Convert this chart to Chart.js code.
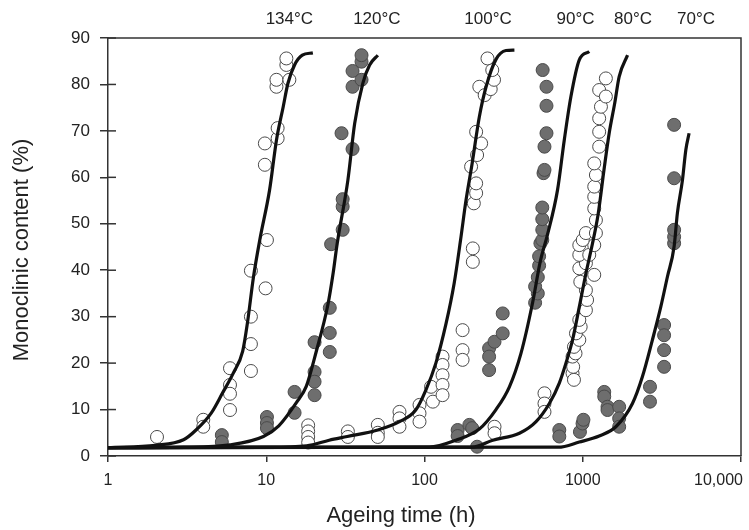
<!DOCTYPE html>
<html>
<head>
<meta charset="utf-8">
<script src="https://cdn.jsdelivr.net/npm/chart.js@4.4.1/dist/chart.umd.min.js"></script>
<style>
  html, body { margin: 0; padding: 0; background: #fff; }
  #wrap { width: 749px; height: 530px; }
</style>
</head>
<body>
<div id="wrap"><canvas id="agingChart" width="749" height="530"></canvas></div>
<script>
// temperature labels along the top, placed at an ageing time (h)
const temps = ['134°C', '120°C', '100°C', '90°C', '80°C', '70°C'];
const tempLabelX = [14, 50, 252, 900, 2080, 5200];

const xTicks = [1, 10, 100, 1000, 10000];
const xTickLabels = ['1', '10', '100', '1000', '10,000'];

// fitted curves [time h, monoclinic %]
const fit134 = [[1, 1.8], [2, 2.3], [3, 3.5], [3.6, 5.6], [4.5, 9.3], [5.3, 13.6], [6.2, 17.9], [7.1, 22.6],
  [7.6, 28.6], [8.3, 38.5], [9.1, 46.5], [10.5, 57.3], [11.6, 68], [12.8, 75.2], [13.7, 80.2], [15.1, 84.2],
  [16.9, 86.3], [19.7, 86.8]];
const fit120 = [[1, 1.8], [3, 1.9], [5.9, 2.4], [9.6, 4.2], [12, 6.5], [15.5, 11.5], [17.9, 15], [20.7, 22.5],
  [24.5, 32.5], [26.5, 39.5], [28, 45.5], [32.8, 59.4], [36.2, 71.6], [40.8, 80.3], [45, 84.2], [50.7, 86.3]];
const fit100 = [[1, 1.8], [10, 1.9], [18, 2.2], [25, 3.4], [32.5, 4.2], [50.7, 5.6], [69.5, 7.4], [88, 9.9],
  [102, 14.2], [118, 20], [137, 28.6], [154, 37.2], [169, 46.5], [183, 55.1], [200, 63], [222, 73],
  [245, 79.5], [283, 85.4], [327, 87.3], [370, 87.4]];
const fit90 = [[1, 1.8], [107, 1.9], [158, 3.4], [222, 5.8], [283, 10], [344, 14.9], [407, 22.1], [482, 33],
  [540, 42], [597, 47.5], [693, 57.3], [764, 68], [842, 77.4], [951, 85.3], [1099, 87.1]];
const fit80 = [[1, 1.8], [200, 1.9], [270, 3.4], [398, 4.9], [507, 7.4], [615, 11.3], [711, 15.7], [783, 20],
  [862, 25], [951, 32.1], [1047, 39.3], [1153, 45.8], [1250, 52], [1367, 62], [1469, 69.5], [1593, 76],
  [1699, 81.7], [1919, 86.3]];
const fit70 = [[1, 1.8], [700, 1.9], [951, 3], [1270, 4.3], [1619, 6.3], [2061, 11.3], [2384, 17.1],
  [2756, 25], [3112, 32.1], [3428, 38.6], [3779, 45.1], [3963, 52.3], [4266, 59.4], [4480, 65.9], [4698, 69.5]];

// measured points [time h, monoclinic %]
const pts134 = [[2.04, 4.1], [4.0, 7.8], [4.0, 6.3], [5.9, 18.9], [5.9, 15.3], [5.9, 13.4], [5.9, 9.9],
  [8.0, 39.9], [8.0, 30], [8.0, 24.1], [8.0, 18.3], [9.9, 36.1], [10.1, 46.5], [9.8, 62.7], [9.8, 67.3],
  [11.8, 68.4], [11.8, 70.6], [11.6, 79.5], [11.6, 81], [14, 81], [13.4, 84.2], [13.4, 85.6]];
const pts120 = [[5.24, 4.5], [5.24, 3.0], [10.1, 8.4], [10.1, 7.1], [10.1, 6.0], [15.1, 13.8], [15.1, 9.3],
  [20.2, 24.5], [20.2, 18.1], [20.2, 16], [20.2, 13.1], [25.2, 31.9], [25.2, 26.5], [25.2, 22.4], [25.7, 45.6],
  [30.4, 48.7], [30.4, 53.7], [30.4, 55.3], [29.9, 69.5], [35.1, 66.1], [35.1, 79.5], [35.1, 82.9],
  [40, 81], [40, 84.9], [40, 86.3]];
const pts100 = [[18.4, 6.6], [18.4, 5.3], [18.4, 4.1], [18.4, 2.9], [32.8, 5.3], [32.8, 4.1], [50.7, 6.7],
  [50.7, 5.0], [50.7, 4.1], [69.5, 9.5], [69.5, 8.1], [69.5, 6.3], [93, 11], [93, 9.2], [93, 7.4], [110, 14.9],
  [113, 11.7], [130, 21.4], [130, 19.6], [130, 17.4], [130, 15.3], [130, 13.1], [174, 27.1], [174, 22.8],
  [174, 20.7], [202, 44.7], [202, 41.8], [205, 54.4], [212, 56.6], [212, 58.7], [197, 62.3], [215, 64.8],
  [228, 67.3], [212, 69.8], [222, 79.5], [240, 77.7], [262, 79], [275, 81], [268, 83.1], [250, 85.6]];
const pts90 = [[162, 5.6], [162, 4.3], [192, 6.7], [200, 6.0], [215, 2.0], [256, 23.2], [256, 21.4],
  [256, 18.5], [277, 24.6], [312, 30.7], [312, 26.4], [500, 33], [520, 35], [500, 36.5], [520, 38.5],
  [530, 41], [530, 43], [540, 45.8], [555, 46.5], [555, 48.7], [555, 51], [555, 53.5], [565, 60.9],
  [573, 61.6], [573, 66.6], [590, 69.5], [590, 75.4], [590, 79.5], [558, 83.1]];
const pts80 = [[277, 6.3], [277, 4.9], [573, 13.5], [573, 11.3], [573, 9.5], [862, 17.8], [880, 16.4],
  [870, 19.2], [862, 21.4], [900, 22.1], [880, 23.5], [951, 25], [906, 26.4], [970, 27.8], [951, 29.3],
  [1047, 31.4], [1065, 33.6], [1047, 35.7], [965, 37.5], [951, 40.4], [1182, 39], [1047, 41.5], [951, 43.3],
  [1099, 43.3], [951, 45.4], [1182, 45.4], [1000, 46.5], [1047, 48], [1211, 48], [1211, 50.8], [1182, 53.3],
  [1182, 55.8], [1182, 58], [1211, 60.5], [1182, 63], [1270, 66.6], [1270, 69.8], [1270, 72.7], [1303, 75.2],
  [1270, 78.8], [1400, 77.4], [1400, 81.3]];
const pts70 = [[711, 5.6], [711, 4.2], [960, 5.2], [997, 7], [1010, 7.8], [1367, 13.8], [1367, 12.8],
  [1434, 10.6], [1434, 9.9], [1699, 10.6], [1699, 8.1], [1699, 6.3], [2660, 14.9], [2660, 11.7],
  [3266, 28.2], [3266, 26], [3266, 22.8], [3266, 19.2], [3779, 45.8], [3779, 47.2], [3779, 48.7],
  [3779, 59.8], [3779, 71.3]];

const OPEN = '#ffffff';
const FILLED = '#6e6e6e';
const series = [
  { fit: fit134, pts: pts134, fill: OPEN },
  { fit: fit120, pts: pts120, fill: FILLED },
  { fit: fit100, pts: pts100, fill: OPEN },
  { fit: fit90, pts: pts90, fill: FILLED },
  { fit: fit80, pts: pts80, fill: OPEN },
  { fit: fit70, pts: pts70, fill: FILLED }
];

const toXY = arr => arr.map(p => ({ x: p[0], y: p[1] }));

const datasets = [];
series.forEach((s, i) => {
  datasets.push({
    label: temps[i] + ' data',
    data: toXY(s.pts),
    showLine: false,
    pointRadius: 6.5,
    pointBackgroundColor: s.fill,
    pointBorderColor: '#4a4a4a',
    pointBorderWidth: 1,
    order: 2
  });
  datasets.push({
    label: temps[i] + ' fit',
    data: toXY(s.fit),
    showLine: true,
    pointRadius: 0,
    borderColor: '#111',
    borderWidth: 3.2,
    cubicInterpolationMode: 'monotone',
    fill: false,
    order: 1
  });
});

const FONT = '"Liberation Sans", Arial, Helvetica, sans-serif';
const AXIS = '#333';

// frame, inward y ticks, x labels, temperature labels and axis titles
const decorPlugin = {
  id: 'decor',
  afterDraw(chart) {
    const { ctx, chartArea: a, scales: { x, y } } = chart;
    ctx.save();
    ctx.strokeStyle = AXIS;
    ctx.lineWidth = 1.5;
    ctx.beginPath();
    ctx.moveTo(a.left, a.top);
    ctx.lineTo(a.right, a.top);
    ctx.lineTo(a.right, a.bottom);
    ctx.stroke();

    y.ticks.forEach(t => {
      const py = y.getPixelForValue(t.value);
      ctx.beginPath();
      ctx.moveTo(a.left, py);
      ctx.lineTo(a.left + 8, py);
      ctx.stroke();
    });

    ctx.fillStyle = '#222';
    ctx.font = '16px ' + FONT;
    ctx.textBaseline = 'middle';
    ctx.textAlign = 'left';
    xTicks.forEach((v, i) => {
      const w = ctx.measureText(xTickLabels[i]).width;
      // keep the last label inside the canvas
      const px = Math.min(x.getPixelForValue(v) - w / 2, chart.width - w - 6);
      ctx.fillText(xTickLabels[i], px, a.bottom + 25);
    });

    ctx.font = '17px ' + FONT;
    ctx.textAlign = 'center';
    temps.forEach((t, i) => ctx.fillText(t, x.getPixelForValue(tempLabelX[i]), 19));

    ctx.font = '22px ' + FONT;
    ctx.fillText('Ageing time (h)', 401, 516);
    ctx.translate(22, 250);
    ctx.rotate(-Math.PI / 2);
    ctx.fillText('Monoclinic content (%)', 0, 0);
    ctx.restore();
  }
};

new Chart(document.getElementById('agingChart'), {
  type: 'scatter',
  data: { datasets },
  options: {
    responsive: false,
    animation: false,
    layout: { padding: { top: 38, right: 8, left: 0, bottom: 0 } },
    plugins: { legend: { display: false }, tooltip: { enabled: false } },
    scales: {
      x: {
        type: 'logarithmic',
        min: 1,
        max: 10000,
        afterBuildTicks: scale => { scale.ticks = xTicks.map(v => ({ value: v })); },
        afterFit: scale => { scale.height = 74; },
        ticks: { display: false },
        grid: { drawOnChartArea: false, drawTicks: true, tickLength: 6, color: AXIS, lineWidth: 1.5 },
        border: { color: AXIS, width: 1.5 }
      },
      y: {
        min: 0,
        max: 90,
        afterFit: scale => { scale.width = 108; },
        ticks: { stepSize: 10, padding: 10, color: '#222', font: { family: FONT, size: 17 } },
        grid: { drawOnChartArea: false, drawTicks: true, tickLength: 8, color: AXIS, lineWidth: 1.5 },
        border: { color: AXIS, width: 1.5 }
      }
    }
  },
  plugins: [decorPlugin]
});
</script>
</body>
</html>
